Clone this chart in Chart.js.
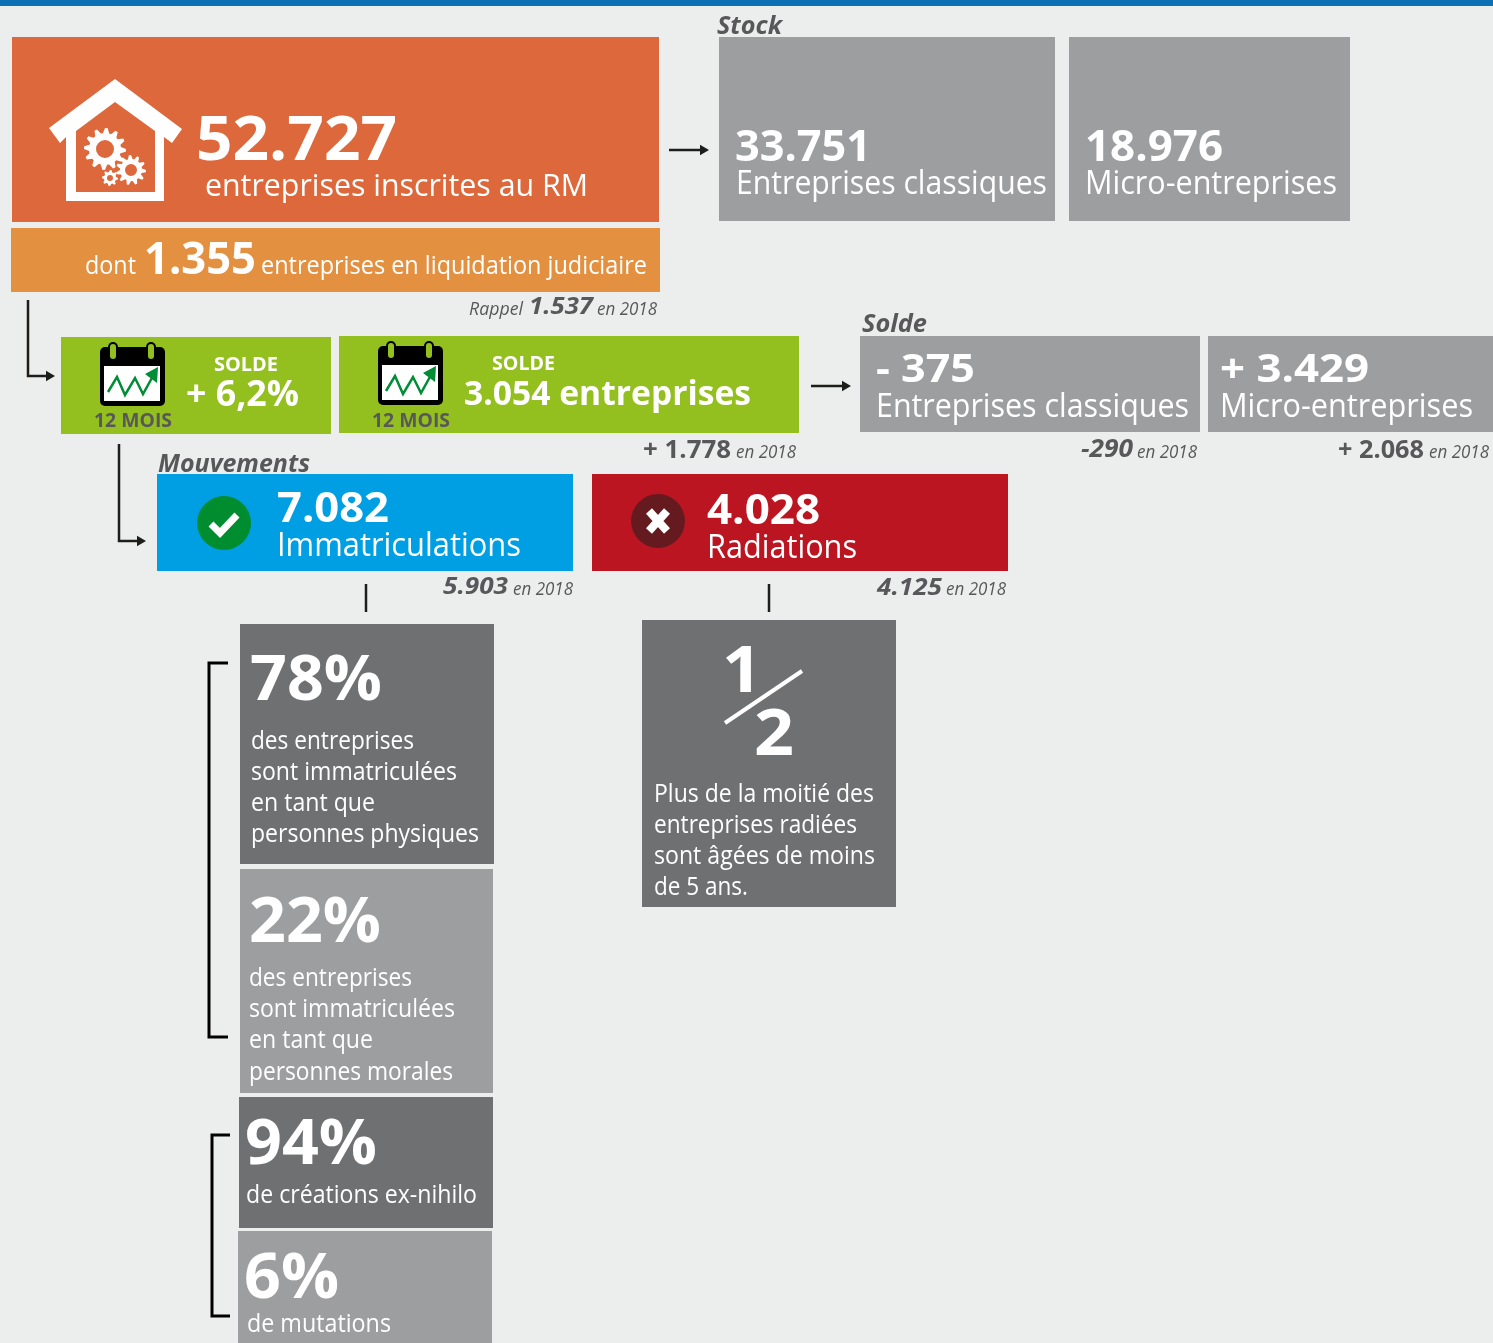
<!DOCTYPE html>
<html lang="fr">
<head>
<meta charset="utf-8">
<title>Entreprises inscrites au RM</title>
<script src="https://cdn.jsdelivr.net/npm/chart.js@4"></script>
<style>
  html, body { margin: 0; padding: 0; background: #eceeed; }
  canvas { display: block; }
</style>
</head>
<body>
<canvas id="graphique" width="1493" height="1343"></canvas>
<script>
// ============================
// DONNEES
// ============================
const totalEntreprises = '52.727';
const liquidation = '1.355';
const liquidation2018 = '1.537';
const categories = ['Entreprises classiques', 'Micro-entreprises'];
const stockValeurs = ['33.751', '18.976'];
const soldeValeurs = ['- 375', '+ 3.429'];
const solde2018 = ['-290', '+ 2.068'];
const soldeTotal = ['+ 6,2%', '3.054 entreprises', '+ 1.778'];
const mouvementsLabels = ['Immatriculations', 'Radiations'];
const mouvementsValeurs = ['7.082', '4.028'];
const mouvements2018 = ['5.903', '4.125'];
const partsImmat = ['78%', '22%', '94%', '6%'];

// ============================
// MISE EN PAGE
// ============================
const LARG = 1493;
const HAUT = 1343;
const GRIS = '#9d9ea0';
const SOMBRE = '#6f7072';
const ENCRE = '#58585a';
const BLANC = '#ffffff';

// gauche, droite, haut, bas, couleur
const tuiles = [
  [0, 1493, 0, 6, '#0c71b4'],
  [12, 659, 37, 222, '#dc683b'],
  [11, 660, 228, 292, '#e39141'],
  [719, 1055, 37, 221, GRIS],
  [1069, 1350, 37, 221, GRIS],
  [61, 331, 337, 434, '#93c01f'],
  [339, 799, 336, 433, '#93c01f'],
  [860, 1200, 336, 432, GRIS],
  [1208, 1493, 336, 432, GRIS],
  [157, 573, 474, 571, '#009fe3'],
  [592, 1008, 474, 571, '#bc1522'],
  [240, 494, 624, 864, SOMBRE],
  [240, 493, 869, 1093, GRIS],
  [642, 896, 620, 907, SOMBRE],
  [239, 493, 1097, 1228, SOMBRE],
  [238, 492, 1231, 1343, GRIS]
];

// points, epaisseur, couleur, fleche au bout
const traits = [
  [[[28, 300], [28, 376], [49, 376]], 2.5, '#1d1d1b', true],
  [[[669, 150], [703, 150]], 2.5, '#1d1d1b', true],
  [[[811, 386], [845, 386]], 2.5, '#1d1d1b', true],
  [[[119, 444], [119, 541], [140, 541]], 2.5, '#1d1d1b', true],
  [[[366, 584], [366, 612]], 2.5, '#1d1d1b', false],
  [[[769, 584], [769, 612]], 2.5, '#1d1d1b', false],
  [[[228, 663], [209, 663], [209, 1037], [228, 1037]], 3, '#000000', false],
  [[[230, 1135], [212, 1135], [212, 1316], [230, 1316]], 3, '#000000', false],
  [[[725, 723], [802, 671]], 4, BLANC, false]
];

const IT = 'italic 400';
const BI = 'italic 700';

// texte, x gauche, x droite, ligne de base, taille, graisse, couleur
const textes = [
  [totalEntreprises, 196, 397, 160, 61, '700', BLANC],
  ['entreprises inscrites au RM', 205, 588, 196, 31, '400', BLANC],
  ['dont', 85, 136, 274, 26, '400', BLANC],
  [liquidation, 144, 256, 274, 44, '700', BLANC],
  ['entreprises en liquidation judiciaire', 261, 647, 274, 25, '400', BLANC],
  ['Rappel', 469, 523, 315, 18, IT, ENCRE],
  [liquidation2018, 529, 593, 314, 24, BI, ENCRE],
  ['en 2018', 597, 657, 315, 18, IT, ENCRE],

  ['Stock', 717, 782, 34, 25, BI, ENCRE],
  [stockValeurs[0], 735, 871, 161, 43, '700', BLANC],
  [categories[0], 736, 1047, 194, 32, '400', BLANC],
  [stockValeurs[1], 1085, 1223, 161, 43, '700', BLANC],
  [categories[1], 1085, 1337, 194, 32, '400', BLANC],

  ['SOLDE', 214, 278, 371, 20, '700', BLANC],
  [soldeTotal[0], 186, 299, 406, 36, '700', BLANC],
  ['12 MOIS', 94, 172, 427, 20, '700', ENCRE],
  ['SOLDE', 492, 555, 370, 20, '700', BLANC],
  [soldeTotal[1], 464, 751, 405, 34, '700', BLANC],
  ['12 MOIS', 372, 450, 427, 20, '700', ENCRE],
  [soldeTotal[2], 643, 731, 458, 25, '700', ENCRE],
  ['en 2018', 736, 796, 458, 18, IT, ENCRE],

  ['Solde', 862, 927, 332, 25, BI, ENCRE],
  [soldeValeurs[0], 876, 975, 382, 40, '700', BLANC],
  [categories[0], 876, 1189, 417, 32, '400', BLANC],
  [soldeValeurs[1], 1220, 1369, 382, 40, '700', BLANC],
  [categories[1], 1220, 1473, 417, 32, '400', BLANC],
  [solde2018[0], 1081, 1133, 457, 25, BI, ENCRE],
  ['en 2018', 1137, 1197, 458, 18, IT, ENCRE],
  [solde2018[1], 1338, 1424, 458, 25, '700', ENCRE],
  ['en 2018', 1429, 1489, 458, 18, IT, ENCRE],

  ['Mouvements', 158, 310, 472, 25, BI, ENCRE],
  [mouvementsValeurs[0], 277, 389, 522, 42, '700', BLANC],
  [mouvementsLabels[0], 277, 521, 556, 32, '400', BLANC],
  [mouvementsValeurs[1], 707, 820, 524, 42, '700', BLANC],
  [mouvementsLabels[1], 707, 857, 558, 32, '400', BLANC],
  [mouvements2018[0], 443, 508, 594, 24, BI, ENCRE],
  ['en 2018', 513, 573, 595, 18, IT, ENCRE],
  [mouvements2018[1], 877, 942, 595, 24, BI, ENCRE],
  ['en 2018', 946, 1006, 595, 18, IT, ENCRE],

  [partsImmat[0], 250, 382, 700, 62, '700', BLANC],
  ['des entreprises', 251, 414, 749, 25, '400', BLANC],
  ['sont immatriculées', 251, 457, 780, 25, '400', BLANC],
  ['en tant que', 251, 375, 811, 25, '400', BLANC],
  ['personnes physiques', 251, 479, 842, 25, '400', BLANC],
  [partsImmat[1], 249, 381, 942, 62, '700', BLANC],
  ['des entreprises', 249, 412, 986, 25, '400', BLANC],
  ['sont immatriculées', 249, 455, 1017, 25, '400', BLANC],
  ['en tant que', 249, 373, 1048, 25, '400', BLANC],
  ['personnes morales', 249, 453, 1080, 25, '400', BLANC],

  ['1', 722, 762, 692, 64, '700', BLANC],
  ['2', 754, 794, 755, 64, '700', BLANC],
  ['Plus de la moitié des', 654, 874, 802, 25, '400', BLANC],
  ['entreprises radiées', 654, 857, 833, 25, '400', BLANC],
  ['sont âgées de moins', 654, 875, 864, 25, '400', BLANC],
  ['de 5 ans.', 654, 748, 895, 25, '400', BLANC],

  [partsImmat[2], 245, 377, 1164, 62, '700', BLANC],
  ['de créations ex-nihilo', 246, 477, 1203, 25, '400', BLANC],
  [partsImmat[3], 244, 339, 1298, 62, '700', BLANC],
  ['de mutations', 247, 391, 1332, 25, '400', BLANC]
];

// ============================
// DATASETS
// ============================
const dsTuiles = tuiles.map(t => ({
  type: 'bar',
  indexAxis: 'y',
  grouped: false,
  data: [{ x: [t[0], t[1]], y: (t[2] + t[3]) / 2 }],
  barThickness: t[3] - t[2],
  backgroundColor: t[4],
  borderWidth: 0,
  inflateAmount: 0,
  order: 2
}));

const dsTraits = traits.map(t => ({
  type: 'line',
  data: t[0].map(p => ({ x: p[0], y: p[1] })),
  borderColor: t[2],
  borderWidth: t[1],
  tension: 0,
  fill: false,
  clip: false,
  pointStyle: 'triangle',
  pointBackgroundColor: t[2],
  pointBorderWidth: 0,
  pointRadius: t[0].map((_, i) => (t[3] && i === t[0].length - 1) ? 6 : 0),
  pointRotation: 90,
  order: 1
}));

// ============================
// PICTOGRAMMES
// ============================
function polygone(ctx, pts) {
  ctx.beginPath();
  pts.forEach((p, i) => i ? ctx.lineTo(p[0], p[1]) : ctx.moveTo(p[0], p[1]));
  ctx.closePath();
}

function engrenage(ctx, cx, cy, rExt, rInt, rTrou, dents) {
  ctx.beginPath();
  for (let i = 0; i < dents * 4; i++) {
    const a = i / (dents * 4) * Math.PI * 2;
    const r = (i % 4 < 2) ? rExt : rInt;
    ctx.lineTo(cx + r * Math.cos(a), cy + r * Math.sin(a));
  }
  ctx.closePath();
  ctx.moveTo(cx + rTrou, cy);
  ctx.arc(cx, cy, rTrou, 0, Math.PI * 2, true);
  ctx.fill('evenodd');
}

function maison(ctx) {
  ctx.fillStyle = BLANC;
  polygone(ctx, [[115, 79], [182, 129], [172, 143], [164, 137], [164, 201], [66, 201], [66, 137], [60, 143], [49, 128]]);
  ctx.fill();
  ctx.fillStyle = '#dc683b';
  polygone(ctx, [[115, 102], [155, 131], [155, 192], [76, 192], [76, 131]]);
  ctx.fill();
  ctx.fillStyle = BLANC;
  engrenage(ctx, 105, 149, 21, 16, 9, 12);
  engrenage(ctx, 131, 170, 15, 11, 6, 11);
  engrenage(ctx, 110, 178, 8, 6, 3, 8);
}

function calendrier(ctx, dx, dy) {
  ctx.save();
  ctx.translate(dx, dy);
  ctx.fillStyle = '#000000';
  ctx.beginPath();
  ctx.roundRect(100, 347, 65, 59, 5);
  ctx.fill();
  [113, 151].forEach(x => {
    ctx.fillStyle = '#000000';
    ctx.beginPath();
    ctx.roundRect(x - 5, 342, 10, 20, 5);
    ctx.fill();
    ctx.fillStyle = '#93c01f';
    ctx.beginPath();
    ctx.roundRect(x - 3, 344, 6, 15, 3);
    ctx.fill();
  });
  ctx.fillStyle = BLANC;
  ctx.fillRect(104, 366, 56, 35);
  ctx.strokeStyle = '#008d36';
  ctx.lineWidth = 2.5;
  ctx.beginPath();
  [[108, 392], [117, 377], [125, 395], [135, 378], [143, 394], [153, 376]]
    .forEach((p, i) => i ? ctx.lineTo(p[0], p[1]) : ctx.moveTo(p[0], p[1]));
  ctx.stroke();
  ctx.fillStyle = '#008d36';
  polygone(ctx, [[158, 367], [157, 383], [145, 374]]);
  ctx.fill();
  ctx.restore();
}

function pastilles(ctx) {
  ctx.fillStyle = '#008d2f';
  ctx.beginPath();
  ctx.arc(224, 523, 27, 0, Math.PI * 2);
  ctx.fill();
  ctx.strokeStyle = BLANC;
  ctx.lineWidth = 7;
  ctx.beginPath();
  ctx.moveTo(211, 524);
  ctx.lineTo(220, 533);
  ctx.lineTo(237, 515);
  ctx.stroke();

  ctx.fillStyle = '#651a20';
  ctx.beginPath();
  ctx.arc(658, 521, 27, 0, Math.PI * 2);
  ctx.fill();
  ctx.lineWidth = 8;
  ctx.beginPath();
  ctx.moveTo(649, 511);
  ctx.lineTo(667, 531);
  ctx.moveTo(667, 511);
  ctx.lineTo(649, 531);
  ctx.stroke();
}

// ============================
// PLUGIN TEXTES + ICONES
// ============================
const pluginInfographie = {
  id: 'infographie',
  afterDatasetsDraw(chart) {
    const ctx = chart.ctx;
    const sx = chart.scales.x;
    const sy = chart.scales.y;
    ctx.save();
    maison(ctx);
    calendrier(ctx, 0, 0);
    calendrier(ctx, 278, -1);
    pastilles(ctx);
    ctx.textAlign = 'left';
    ctx.textBaseline = 'alphabetic';
    textes.forEach(t => {
      const x0 = sx.getPixelForValue(t[1]);
      const x1 = sx.getPixelForValue(t[2]);
      ctx.font = `${t[5]} ${t[4]}px "Open Sans"`;
      ctx.fillStyle = t[6];
      const k = (x1 - x0) / ctx.measureText(t[0]).width;
      ctx.save();
      ctx.translate(x0, sy.getPixelForValue(t[3]));
      ctx.scale(k, 1);
      ctx.fillText(t[0], 0, 0);
      ctx.restore();
    });
    ctx.restore();
  }
};

const pluginFond = {
  id: 'fond',
  beforeDraw(chart) {
    const ctx = chart.ctx;
    ctx.save();
    ctx.fillStyle = '#eceeed';
    ctx.fillRect(0, 0, chart.width, chart.height);
    ctx.restore();
  }
};

// ============================
// GRAPHIQUE
// ============================
new Chart(document.getElementById('graphique').getContext('2d'), {
  type: 'bar',
  data: { datasets: [...dsTraits, ...dsTuiles] },
  options: {
    responsive: false,
    animation: false,
    layout: { padding: 0, autoPadding: false },
    plugins: {
      legend: { display: false },
      tooltip: { enabled: false }
    },
    scales: {
      x: { type: 'linear', min: 0, max: LARG, display: false, offset: false },
      y: { type: 'linear', min: 0, max: HAUT, reverse: true, display: false, offset: false }
    }
  },
  plugins: [pluginFond, pluginInfographie]
});
</script>
</body>
</html>
